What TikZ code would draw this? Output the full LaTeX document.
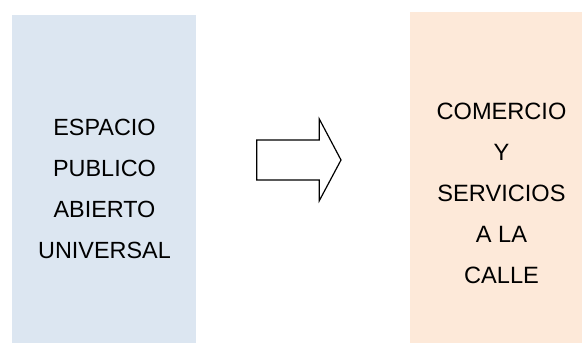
\documentclass[tikz,border=0pt]{standalone}
\usepackage{fontspec}
\setmainfont{Liberation Sans}
\usepackage{tikz}
\usetikzlibrary{positioning}
\definecolor{paleblue}{HTML}{DCE6F1}
\definecolor{palepeach}{HTML}{FDE9D9}

\begin{document}
\begin{tikzpicture}[x=1pt,y=-1pt,every node/.style={align=center,inner sep=0pt},panel/.style={fill=#1,draw=none,anchor=north west,inner sep=0pt}]
\useasboundingbox (0,0) rectangle (582,343);
\node[panel=paleblue,minimum width=184pt,minimum height=328pt] (espacio) at (12,15) {};
\node[panel=palepeach,minimum width=172pt,minimum height=331pt] (comercio) at (410,12) {};
\node[font=\fontsize{23.4}{41}\selectfont] (espaciotxt) at (104.5,189) {ESPACIO\\PUBLICO\\ABIERTO\\UNIVERSAL};
\node[font=\fontsize{23.6}{41}\selectfont] (comerciotxt) at (501.5,193.5) {COMERCIO\\Y\\SERVICIOS\\A LA\\CALLE};
% flecha de bloque
\draw[line width=1.2pt,line join=miter] (256.7,140) -- (319.3,140) -- (319.3,119) -- (341,160) -- (319.3,200.7) -- (319.3,180) -- (256.7,180) -- cycle;
\end{tikzpicture}
\end{document}
